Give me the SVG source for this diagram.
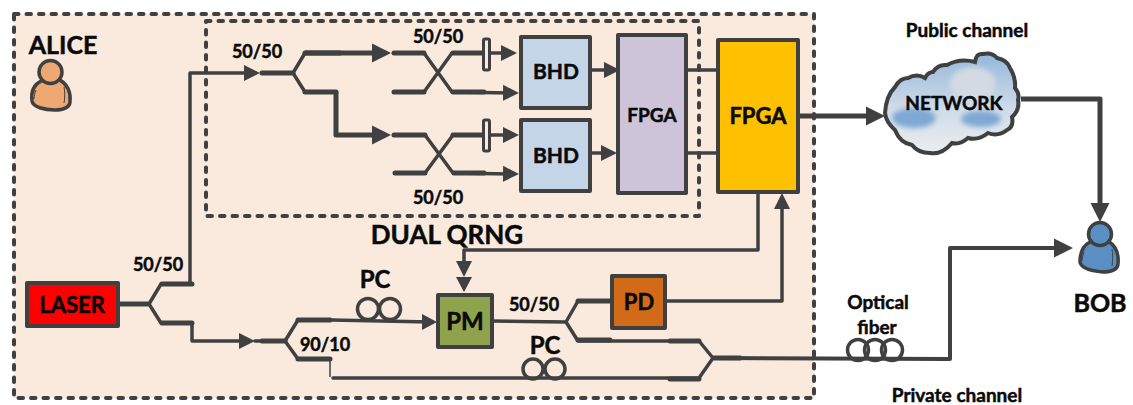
<svg xmlns="http://www.w3.org/2000/svg" width="1133" height="405" viewBox="0 0 1133 405">
<style>
text{font-family:"Lato","Open Sans","Liberation Sans",sans-serif;font-weight:700;fill:#0a0a0a;stroke:#0a0a0a;stroke-width:.5;text-anchor:middle}
.l{font-size:18px}.m{font-size:22px}.b{font-size:24px}.s{font-size:19px}
.box{stroke:#404040;stroke-width:4;stroke-linejoin:round}
.w{fill:none;stroke:#404040;stroke-width:3.5;stroke-linejoin:round;stroke-linecap:round}
.t{fill:none;stroke:#404040;stroke-width:5;stroke-linecap:round}
.a{fill:none;stroke:#404040;stroke-width:3.5;stroke-linejoin:round;marker-end:url(#ah)}
.A{fill:none;stroke:#404040;stroke-width:5;stroke-linejoin:round;marker-end:url(#ah2)}
.d{fill:none;stroke:#404040;stroke-width:4;stroke-dasharray:4.5 8;stroke-linecap:round;stroke-linejoin:round}
.c{fill:none;stroke:#404040;stroke-width:3.5}
.ph{fill:#f9eadd;stroke:#404040;stroke-width:3}
</style>
<defs>
<marker id="ah" markerUnits="userSpaceOnUse" markerWidth="18" markerHeight="20" refX="10" refY="10" orient="auto"><path d="M0,2L16,10L0,18Z" fill="#404040"/></marker>
<marker id="ah2" markerUnits="userSpaceOnUse" markerWidth="21" markerHeight="22" refX="13" refY="11" orient="auto"><path d="M0,1.500L19,11L0,20.500Z" fill="#404040"/></marker>
<linearGradient id="cl" x1="0" y1="0" x2="0" y2="1"><stop offset="0" stop-color="#94b7db"/><stop offset="0.55" stop-color="#cfdbe8"/><stop offset="1" stop-color="#eceef0"/></linearGradient>
<filter id="blur" x="-30%" y="-30%" width="160%" height="160%"><feGaussianBlur stdDeviation="2.5"/></filter>
</defs>
<g id="alice-zone"><rect x="14" y="14" width="800" height="384" class="d" style="fill:#f9eadd"/></g>
<g id="qrng-zone"><rect x="206" y="21" width="493" height="195" class="d"/></g>
<g id="connectors">
<path class="w" d="M118,304H149L161,284H192"/>
<path class="a" d="M190,284V73H254"/>
<path class="t" d="M118,304H148M162,284H192M162,323H192"/>
<path class="w" d="M149,304L161,323H192"/>
<path class="a" d="M192,323V341H249"/>
<path class="t" d="M262,73H293M305,53H340M305,92H336"/>
<path class="w" d="M293,73L305,53M293,73L305,92"/>
<path class="A" d="M305,53H385"/>
<path class="A" d="M336,92V135H385"/>
<path class="t" d="M394,53H424M394,92H424M394,135H425M395,173H425M453,92H484M453,53H484M453,135H484M454,173H484"/>
<path class="w" d="M424,53L452,92M424,92L452,53M425,135L453,173M425,173L453,135"/>
<path class="a" d="M452,53H511"/>
<path class="a" d="M452,92L513,93"/>
<path class="a" d="M453,135H513"/>
<path class="a" d="M453,173L513,174"/>
<path class="a" d="M590,70H614"/>
<path class="a" d="M590,153H611"/>
<path class="w" d="M686,70H717M686,153H717"/>
<path class="A" d="M798,116H879"/>
<path class="A" d="M1021,99H1100V216"/>
<path class="a" d="M758,192V250H464V271"/>
<path d="M456,277H472L464,292Z" fill="#404040"/>
<path class="a" d="M665,301H782V199"/>
<path class="t" d="M262,341H285M298,320H330M298,359H330M578,301H611M578,340H610M670,341H699M670,379H699M714,358H740"/>
<path class="w" d="M255,341H285L298,320H331L431,322M285,341L298,359H330"/>
<path class="c" style="stroke-width:1.5" d="M330,359V377"/>
<path class="w" d="M333,378H699L713,358L699,341H578L566,322L578,301M492,321L566,322"/>
<path class="A" style="stroke-width:4" d="M713,358L950,359V248H1067"/>
<path d="M422,314L437,322L422,330Z" fill="#404040"/>
</g>
<g id="pc1"><circle class="c" cx="368" cy="309" r="10.5"/><circle class="c" cx="390" cy="309" r="10.5"/></g>
<g id="pc2"><circle class="c" cx="533" cy="369" r="10"/><circle class="c" cx="555" cy="369" r="10"/></g>
<g id="fiber-coil"><circle class="c" cx="858" cy="350" r="10.5"/><circle class="c" cx="875" cy="350" r="10.5"/><circle class="c" cx="892" cy="350" r="10.5"/></g>
<g id="phase1"><rect x="483.5" y="39" width="6" height="31" rx="1.5" class="ph"/></g>
<g id="phase2"><rect x="483.5" y="120" width="6" height="31" rx="1.5" class="ph"/></g>
<g id="laser"><rect x="27" y="283" width="91" height="43" fill="#ff0000" class="box"/><text class="m" x="72" y="313">LASER</text></g>
<g id="bhd1"><rect x="521" y="37" width="69" height="71" fill="#c3d5e7" class="box"/><text style="font-size:21px" x="556" y="79">BHD</text></g>
<g id="bhd2"><rect x="521" y="120" width="69" height="71" fill="#c3d5e7" class="box"/><text style="font-size:21px" x="556" y="163">BHD</text></g>
<g id="fpga-inner"><rect x="618" y="35" width="68" height="158" fill="#cdc4da" class="box"/><text class="s" x="652" y="122">FPGA</text></g>
<g id="fpga-outer"><rect x="718" y="40" width="80" height="152" fill="#ffc000" class="box"/><text class="m" x="758" y="124">FPGA</text></g>
<g id="pm"><rect x="438" y="295" width="54" height="52" fill="#8fa34d" class="box"/><text class="b" x="465" y="330">PM</text></g>
<g id="pd"><rect x="612" y="276" width="53" height="52" fill="#d16b18" class="box"/><text class="m" x="639" y="310">PD</text></g>
<g id="network">
<path id="cloud-shape" d="M885,113Q886,96 895,87Q900,78 908,78Q917,73 925,78Q928,72 933,72Q938,64 947,65Q960,58 975,62Q976,53 983,54Q992,52 997,58Q1007,60 1010,68Q1016,78 1015,88Q1020,94 1018,100Q1020,110 1012,117Q1014,127 1007,130Q998,137 988,133Q978,141 968,138Q960,145 952,143Q942,155 930,153Q918,153 912,145Q900,143 895,130Q886,122 885,113Z" fill="url(#cl)" stroke="#404040" stroke-width="4"/>
<ellipse cx="914" cy="118" rx="22" ry="10" fill="#7fa8d4" filter="url(#blur)"/>
<ellipse cx="981" cy="119" rx="20" ry="8" fill="#7fa8d4" filter="url(#blur)"/>
<ellipse cx="973" cy="84" rx="23" ry="17" fill="#d3dae3" filter="url(#blur)"/>
<text style="font-size:19px" x="954" y="110">NETWORK</text>
</g>
<g id="alice">
<path d="M41,81C33,85 31,93 32,101C33,107 44,110 55,110C64,110 70,107 70,102C71,92 68,85 60,80Z" fill="#eda873" stroke="#404040" stroke-width="3.5" stroke-linejoin="round"/>
<circle cx="50.500" cy="72" r="11.500" fill="#eda873" stroke="#404040" stroke-width="3.500"/>
<path d="M64,87C65,92 65,98 64,103M36,90C35,93 34,96 34,99" fill="none" stroke="#404040" stroke-width="1"/>
<text style="font-size:25px" x="63" y="54">ALICE</text>
</g>
<g id="bob">
<path d="M1090,242C1082,246 1080,254 1080,262C1081,269 1092,271 1103,272C1112,272 1118,269 1118,264C1119,254 1116,246 1108,241Z" fill="#5a8fc3" stroke="#404040" stroke-width="3.500" stroke-linejoin="round"/>
<circle cx="1100" cy="234" r="11.500" fill="#5a8fc3" stroke="#404040" stroke-width="3.500"/>
<path d="M1112,249C1113,254 1113,260 1112,266M1084,252C1083,255 1082,258 1082,261" fill="none" stroke="#404040" stroke-width="1"/>
<text style="font-size:25px" x="1100" y="312">BOB</text>
</g>
<g id="labels">
<text class="l" x="257" y="58">50/50</text>
<text class="l" x="438" y="43">50/50</text>
<text class="l" x="438" y="204">50/50</text>
<text class="l" x="158" y="271">50/50</text>
<text class="l" x="325" y="351">90/10</text>
<text class="l" x="534" y="311">50/50</text>
<text style="font-size:26px" x="447" y="244">DUAL QRNG</text>
<text class="b" x="375" y="288">PC</text>
<text class="b" x="545" y="354">PC</text>
<text class="s" x="967" y="37">Public channel</text>
<text class="s" x="878" y="309">Optical</text>
<text class="s" x="877" y="334">fiber</text>
<text class="s" x="957" y="402">Private channel</text>
</g>
</svg>
